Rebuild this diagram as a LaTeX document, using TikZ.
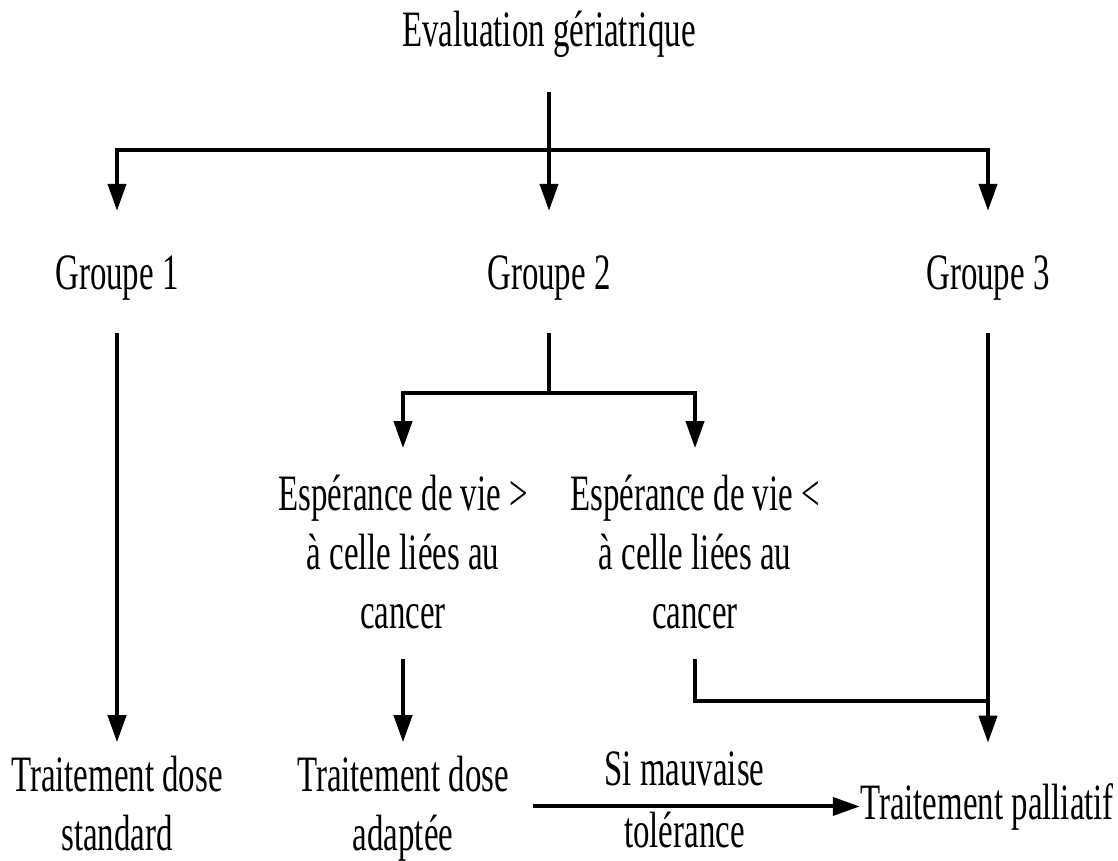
\documentclass[tikz,border=0pt]{standalone}
\usepackage{fontspec}
\setmainfont{Liberation Serif}[FakeStretch=0.645]
\usetikzlibrary{
	positioning,
	arrows.meta
}

\begin{document}
\begin{tikzpicture}[
	x=0.5pt, y=-0.5pt,
	every node/.style={inner sep=0pt, font=\fontsize{25.5}{29.5}\selectfont},
	txt/.style={anchor=base, align=center},
	link/.style={line width=2pt},
	arr/.style={link, -{Triangle[length=13.5pt,width=9pt]}},
	hv/.style={to path={-| (\tikztotarget)}},
	vh/.style={to path={|- (\tikztotarget)}}
]
	\useasboundingbox (0,0) rectangle (1118,861);
	% base of the last line for the nodes with several lines
	\draw
		node [txt] (eval)  at (549,47)  {Evaluation gériatrique}
		node [txt] (g1)    at (117,289) {Groupe 1}
		node [txt] (g2)    at (549,289) {Groupe 2}
		node [txt] (g3)    at (988,289) {Groupe 3}
		node [txt] (espA)  at (403,628) {Espérance de vie >\\à celle liées au\\cancer}
		node [txt] (espB)  at (695,628) {Espérance de vie <\\à celle liées au\\cancer}
		node [txt] (tdStd) at (117,850) {Traitement dose\\standard}
		node [txt] (tdAdp) at (403,850) {Traitement dose\\adaptée}
		node [txt] (pall)  at (987,819) {Traitement palliatif}
		coordinate (split1) at (549,150)
		coordinate (split2) at (549,393)
		coordinate (join)   at (988,701)

		(eval)   edge[arr, shorten <=17pt, shorten >=22pt]   (g2)
		(split1) edge[arr, hv, shorten >=22pt]               (g1)
		(split1) edge[arr, hv, shorten >=22pt]               (g3)
		(g1)     edge[arr, shorten <=16.5pt, shorten >=6.5pt] (tdStd)
		(g2)     edge[link, shorten <=16.5pt]                (split2)
		(split2) edge[arr, hv, shorten >=13pt]               (espA)
		(split2) edge[arr, hv, shorten >=13pt]               (espB)
		(espA)   edge[arr, shorten <=15pt, shorten >=6.5pt]  (tdAdp)
		(espB)   edge[link, vh, shorten <=15pt]              (join)
		(g3)     edge[arr, shorten <=16.5pt, shorten >=20pt] (g3 |- pall.north)
		(tdAdp.east |- pall) edge[arr, shorten <=12pt]
			node[above=9pt] (si) {Si mauvaise}
			node[below=2pt] (tol) {tolérance} (pall)
	;
\end{tikzpicture}
\end{document}
